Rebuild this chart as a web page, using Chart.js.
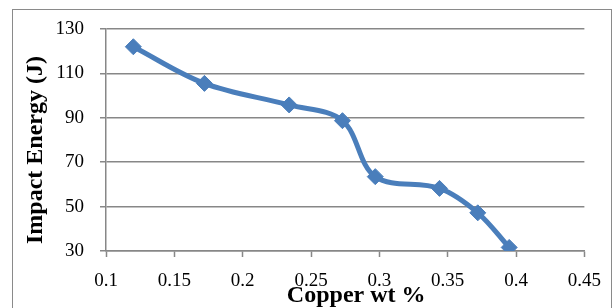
<!DOCTYPE html>
<html>
<head>
<meta charset="utf-8">
<script src="https://cdn.jsdelivr.net/npm/chart.js@4"></script>
<style>
  html, body { margin: 0; padding: 0; background: #fff; }
  .wrap { position: relative; width: 614px; height: 308px; overflow: hidden; }
  .frame { position: absolute; left: 12px; top: 9px; width: 600px; height: 320px; border: 1.5px solid #8a8a8a; box-sizing: border-box; }
  canvas { position: absolute; left: 0; top: 0; }
</style>
</head>
<body>
<div class="wrap">
  <div class="frame"></div>
  <canvas id="impactChart" width="614" height="308"></canvas>
</div>
<script>
// DATA
var copperWt     = [0.12, 0.172, 0.234, 0.273, 0.297, 0.344, 0.372, 0.395];
var impactEnergy = [122, 105.5, 95.8, 88.7, 63.5, 58.2, 47.2, 31.6];
var xTicks = [0.1, 0.15, 0.2, 0.25, 0.3, 0.35, 0.4, 0.45];
var yTicks = [30, 50, 70, 90, 110, 130];

var xTitle = 'Copper wt %';
var yTitle = 'Impact Energy (J)';

var points = copperWt.map(function(x, i) {
  return { x: x, y: impactEnergy[i] };
});

var gridColor = '#878787';
var tickFont  = { family: 'Liberation Serif', size: 19 };

// axis titles sit where the original had them (x title overlaps the tick labels)
var axisTitles = {
  id: 'axisTitles',
  afterDraw: function(chart) {
    var ctx  = chart.ctx;
    var area = chart.chartArea;
    ctx.save();
    ctx.fillStyle = '#000';
    ctx.font = 'bold 24px "Liberation Serif"';
    ctx.textAlign = 'center';
    ctx.textBaseline = 'alphabetic';
    ctx.fillText(xTitle, (area.left + area.right) / 2 + 11, area.bottom + 51);

    ctx.translate(area.left - 64, (area.top + area.bottom) / 2 + 10);
    ctx.rotate(-Math.PI / 2);
    ctx.fillText(yTitle, 0, 0);
    ctx.restore();
  }
};

var config = {
  type: 'scatter',
  data: {
    datasets: [{
      data: points,
      showLine: true,
      borderColor: '#4a7ebb',
      backgroundColor: '#4a7ebb',
      borderWidth: 5,
      tension: 0.35,
      pointStyle: 'rectRot',
      pointRadius: 8,
      pointBorderWidth: 1,
      pointBorderColor: '#4a7ebb'
    }]
  },
  options: {
    responsive: false,
    animation: false,
    layout: { padding: { top: 29, right: 29, left: 0, bottom: 0 } },
    plugins: {
      legend: { display: false },
      tooltip: { enabled: false }
    },
    scales: {
      x: {
        type: 'linear',
        min: xTicks[0],
        max: xTicks[xTicks.length - 1],
        afterBuildTicks: function(scale) {
          scale.ticks = xTicks.map(function(v) { return { value: v }; });
        },
        afterFit: function(scale) { scale.height = 57; },
        ticks: {
          color: '#000',
          font: tickFont,
          padding: 13,
          maxRotation: 0,
          callback: function(v) { return String(Math.round(v * 100) / 100); }
        },
        grid: {
          drawOnChartArea: false,
          drawTicks: true,
          tickLength: 6,
          tickWidth: 1.5,
          tickColor: gridColor
        },
        border: { color: gridColor, width: 1.5 }
      },
      y: {
        type: 'linear',
        min: yTicks[0],
        max: yTicks[yTicks.length - 1],
        afterBuildTicks: function(scale) {
          scale.ticks = yTicks.map(function(v) { return { value: v }; });
        },
        afterFit: function(scale) { scale.width = 106; },
        ticks: {
          color: '#000',
          font: tickFont,
          padding: 16
        },
        grid: {
          color: gridColor,
          lineWidth: 1.5,
          tickLength: 6
        },
        border: { color: gridColor, width: 1.5 }
      }
    }
  },
  plugins: [axisTitles]
};

var impactChart = new Chart(document.getElementById('impactChart'), config);
</script>
</body>
</html>
